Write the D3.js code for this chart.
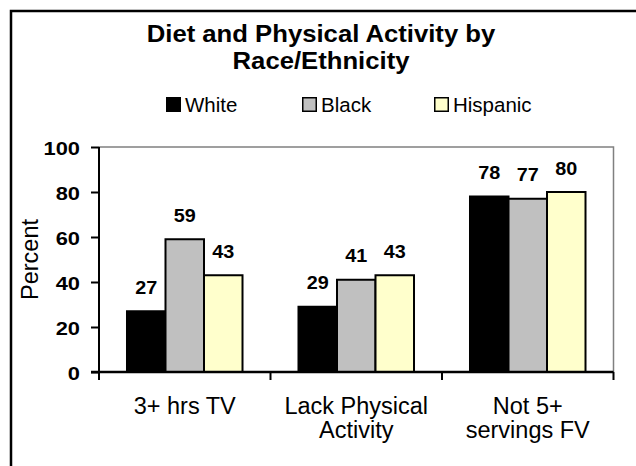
<!DOCTYPE html>
<html>
<head>
<meta charset="utf-8">
<script src="https://cdn.jsdelivr.net/npm/d3@7"></script>
<style>
  html, body { margin: 0; padding: 0; background: #fff; }
  svg { display: block; font-family: "Liberation Sans", Arial, sans-serif; }
</style>
</head>
<body>
<svg id="chart" width="636" height="466"></svg>
<script>
// ---- data ----
const categories = ["3+ hrs TV", "Lack Physical Activity", "Not 5+ servings FV"];
const categoryLines = [["3+ hrs TV"], ["Lack Physical", "Activity"], ["Not 5+", "servings FV"]];
const series = ["White", "Black", "Hispanic"];
const whiteValues = [27, 29, 78];
const blackValues = [59, 41, 77];
const hispanicValues = [43, 43, 80];
const yTicks = [0, 20, 40, 60, 80, 100];
const titleLines = ["Diet and Physical Activity by", "Race/Ethnicity"];
const yLabel = "Percent";

const seriesValues = { White: whiteValues, Black: blackValues, Hispanic: hispanicValues };
const colors = { White: "#000000", Black: "#c0c0c0", Hispanic: "#ffffcc" };

const svg = d3.select("#chart");

// outer frame
svg.append("rect").attr("x", 11).attr("y", 11).attr("width", 700).attr("height", 600)
  .attr("fill", "none").attr("stroke", "#000").attr("stroke-width", 2.5);

const plotLeft = 99, plotRight = 613.5, plotTop = 147, plotBottom = 372;

const x = d3.scaleBand().domain(categories).range([plotLeft, plotRight]).paddingInner(0).paddingOuter(0);
const xs = d3.scaleBand().domain(series).range([0, x.bandwidth()]).paddingInner(0).paddingOuter(0.727);
const y = d3.scaleLinear().domain([0, 100]).range([plotBottom, plotTop]);

// plot area border (gray top & right)
svg.append("path")
  .attr("d", `M${plotLeft},${y(100)}H${plotRight}V${y(0)}`)
  .attr("fill", "none").attr("stroke", "#808080").attr("stroke-width", 1.5);

// bars
const rows = categories.map((c, i) => ({ cat: c, i }));
const groups = svg.append("g").selectAll("g").data(rows).join("g")
  .attr("transform", d => `translate(${x(d.cat)},0)`);

groups.selectAll("rect").data(d => series.map(s => ({ s, v: seriesValues[s][d.i] })))
  .join("rect")
  .attr("x", d => xs(d.s))
  .attr("y", d => y(d.v))
  .attr("width", xs.bandwidth())
  .attr("height", d => y(0) - y(d.v))
  .attr("fill", d => colors[d.s])
  .attr("stroke", "#000").attr("stroke-width", 2);

// value labels
groups.selectAll("text.val").data(d => series.map(s => ({ s, v: seriesValues[s][d.i] })))
  .join("text").attr("class", "val")
  .attr("transform", d => `translate(${xs(d.s) + xs.bandwidth() / 2},${y(d.v) - 17.5}) scale(1.1,1)`)
  .attr("text-anchor", "middle")
  .attr("font-size", 18).attr("font-weight", "bold").attr("fill", "#000")
  .text(d => d.v);

// y axis
const yAxis = svg.append("g").attr("transform", `translate(${plotLeft},0)`)
  .call(d3.axisLeft(y).tickValues(yTicks).tickSize(8).tickPadding(11));
yAxis.select(".domain").remove();
yAxis.selectAll(".tick line").attr("stroke", "#000").attr("stroke-width", 2);
yAxis.selectAll(".tick text").remove();
yAxis.selectAll(".tick").append("text")
  .attr("transform", "translate(-19,7) scale(1.15,1)")
  .attr("text-anchor", "end")
  .attr("font-size", 19).attr("font-weight", "bold").attr("fill", "#000")
  .attr("font-family", "'Liberation Sans', Arial, sans-serif")
  .text(d => d);
svg.append("line").attr("x1", plotLeft).attr("x2", plotLeft).attr("y1", y(100)).attr("y2", y(0))
  .attr("stroke", "#000").attr("stroke-width", 2);

// x axis
svg.append("line").attr("x1", plotLeft - 8).attr("x2", plotRight).attr("y1", y(0)).attr("y2", y(0))
  .attr("stroke", "#000").attr("stroke-width", 2.5);
const boundaries = categories.map(c => x(c)).concat([x(categories[categories.length - 1]) + x.bandwidth()]);
svg.append("g").selectAll("line").data(boundaries).join("line")
  .attr("x1", d => d).attr("x2", d => d).attr("y1", y(0)).attr("y2", y(0) + 8)
  .attr("stroke", "#000").attr("stroke-width", 2);

// category labels
const catG = svg.append("g").selectAll("text").data(rows).join("text")
  .attr("text-anchor", "middle")
  .attr("font-size", 23.5).attr("fill", "#000");
catG.selectAll("tspan").data(d => categoryLines[d.i].map(l => ({ l, cx: x(d.cat) + x.bandwidth() / 2 })))
  .join("tspan")
  .attr("x", d => d.cx)
  .attr("y", (d, j) => 414 + j * 24)
  .text(d => d.l);

// y label
svg.append("text")
  .attr("transform", `translate(38,${(y(0) + y(100)) / 2}) rotate(-90)`)
  .attr("text-anchor", "middle")
  .attr("font-size", 23.5).attr("fill", "#000")
  .text(yLabel);

// title
svg.append("g").selectAll("text").data(titleLines).join("text")
  .attr("transform", (d, i) => `translate(321,${41.5 + i * 27.5}) scale(1.07,1)`)
  .attr("text-anchor", "middle")
  .attr("font-size", 24).attr("font-weight", "bold").attr("fill", "#000")
  .text(d => d);

// legend
const legendX = [166, 302, 434];
const lg = svg.append("g").selectAll("g").data(series).join("g")
  .attr("transform", (d, i) => `translate(${legendX[i]},97)`);
lg.append("rect").attr("x", 0.75).attr("y", 0.75).attr("width", 13.5).attr("height", 13.5)
  .attr("fill", d => colors[d]).attr("stroke", "#000").attr("stroke-width", 1.5);
lg.append("text").attr("x", 19).attr("y", 15)
  .attr("font-size", 20.5).attr("fill", "#000")
  .text(d => d);
</script>
</body>
</html>
